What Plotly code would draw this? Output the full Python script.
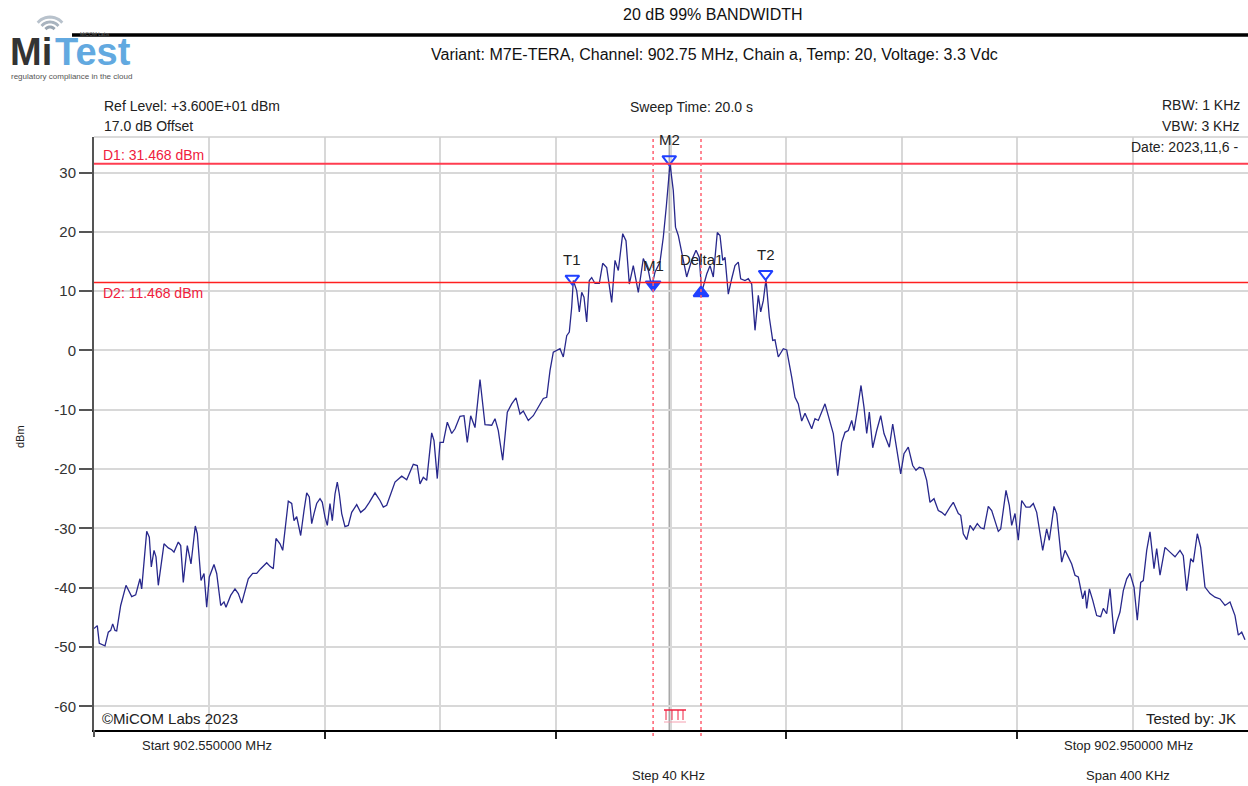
import math
import plotly.graph_objects as go

# ---------------- data ----------------
START_MHZ = 902.55
STOP_MHZ = 902.95

trace_offset_khz = [
    0.0, 1.14, 1.84, 3.81, 4.96, 5.79, 6.48, 7.28, 7.87, 9.25, 11.09, 13.07, 14.45, 15.94, 16.53,
    18.27, 19.17, 19.86, 20.80, 21.49, 22.29, 24.26, 25.75, 26.93, 27.73, 29.22, 30.05, 30.95, 32.34,
    33.62, 35.11, 35.81, 37.09, 38.13, 39.06, 39.97, 41.59, 42.53, 43.92, 45.06, 45.75, 47.38, 48.87,
    50.02, 51.20, 52.34, 53.48, 55.01, 56.40, 57.78, 59.86, 61.01, 62.15, 63.08, 64.47, 65.41, 66.20,
    67.35, 68.53, 69.32, 70.26, 71.64, 72.79, 73.73, 74.63, 75.46, 76.26, 77.19, 78.34, 79.13, 80.07,
    80.87, 81.80, 82.60, 83.54, 84.33, 85.03, 85.86, 87.00, 88.15, 89.32, 91.06, 92.44, 93.93, 95.42,
    97.40, 99.13, 100.28, 101.46, 102.60,
    104.33, 106.66, 108.39, 110.68, 112.06, 113.00, 114.14, 115.32, 117.05, 117.85, 118.99, 119.93,
    121.07, 122.46, 123.99, 125.13, 126.86, 128.25, 129.39, 130.57, 132.06, 133.80, 135.53, 137.85,
    138.99, 140.14, 141.66, 143.26, 144.78, 146.27, 147.66, 148.80, 150.54, 152.27, 154.00, 155.74,
    156.91, 158.06, 159.20, 161.52, 162.67, 163.85, 164.75, 165.58, 166.14, 167.31, 168.22, 169.05,
    169.84, 170.78, 171.68, 172.51, 173.66, 175.15, 176.33, 177.71, 179.45, 180.59, 181.74, 183.26,
    184.40, 185.55, 186.93, 188.67, 190.40, 192.13, 193.31, 194.45, 196.18, 197.33, 198.40, 199.65,
    200.79, 201.56, 202.53, 203.71, 205.44, 207.17, 208.67, 209.81, 210.64, 212.38, 213.52, 214.66,
    216.05, 216.98, 217.92, 218.72, 219.86, 221.04, 222.18, 223.33, 224.16, 225.65, 226.79, 227.97,
    229.12, 230.26, 231.09, 231.99, 232.93, 234.07, 235.25, 236.05, 237.19, 238.93, 240.10, 241.84,
    242.98, 244.13, 245.30, 246.45, 247.59, 248.77, 249.91, 251.06, 253.38, 255.11, 256.26, 257.78,
    259.17, 260.31, 261.46, 262.64, 263.43, 264.58, 265.86, 266.90, 267.84, 268.74, 269.92, 271.30,
    272.69, 273.83, 275.67, 276.85, 278.44, 279.62, 280.76, 282.25, 283.78, 284.92, 286.07, 287.45,
    288.63, 289.77, 291.16, 292.65, 293.83, 294.97, 296.71,
    297.85, 299.59, 300.42, 301.32, 302.50, 303.64, 304.79, 306.17, 307.35, 308.49, 309.98, 311.16,
    313.45, 314.28, 316.12, 317.26, 318.09, 319.24, 320.38, 321.56, 323.05, 324.44, 325.58, 326.76,
    328.84, 330.22, 331.12, 332.76, 333.69, 335.42, 336.57, 337.71, 338.89, 340.04, 341.18, 342.70,
    343.50, 344.09, 344.99, 346.17, 347.55, 348.94, 349.84, 351.02, 352.17, 353.55, 354.49, 355.63,
    356.78, 357.96, 359.10, 360.49, 361.63, 362.81, 363.71, 364.89, 366.03, 367.42, 368.35, 369.50,
    371.23, 372.96, 374.70, 376.43, 377.57, 378.75, 380.14, 381.04, 382.43, 383.60, 385.09, 386.83,
    388.56, 390.29, 392.03, 393.76, 395.49, 396.64, 397.82, 398.96,
]

trace_level_dbm = [
    -46.9, -46.4, -49.4, -49.8, -47.5, -47.2, -46.1, -47.2, -47.3, -43.0, -39.6, -41.5, -41.2, -38.5, -40.2,
    -30.5, -31.5, -36.5, -33.7, -34.8, -39.6, -32.6, -33.3, -33.6, -34.0, -32.3, -32.9, -39.1, -32.9,
    -36.0, -29.6, -30.9, -38.8, -37.6, -43.3, -38.2, -36.1, -37.6, -43.0, -42.4, -43.3, -41.3, -40.2,
    -41.0, -42.6, -40.7, -38.5, -37.6, -37.6, -36.8, -35.8, -36.4, -36.8, -31.7, -32.6, -33.7, -30.6,
    -25.4, -25.8, -28.7, -28.0, -31.2, -27.0, -24.0, -24.7, -29.2, -27.5, -25.8, -25.0, -25.6, -28.1,
    -29.5, -25.8, -28.7, -24.2, -22.2, -24.2, -27.5, -29.7, -29.5, -27.3, -26.0, -27.3, -26.7, -25.6,
    -24.0, -25.3, -26.4, -26.1, -24.4,
    -22.2, -21.2, -21.8, -19.2, -19.4, -22.5, -21.4, -21.9, -13.9, -15.2, -21.6, -15.5,
    -15.5, -12.1, -14.0, -13.2, -11.1, -11.0, -15.5, -11.0, -13.0, -4.9, -12.5, -12.6,
    -11.5, -13.5, -18.5, -10.4, -9.0, -8.0, -10.7, -10.2, -11.8, -11.0, -9.6, -8.1,
    -7.9, -3.4, -0.3, 0.3, -1.1, 2.5, 3.1, 7.3, 11.8, 10.1, 6.5, 9.8,
    9.0, 4.8, 11.8, 12.3, 11.3, 11.3, 14.7, 14.0, 8.1, 15.2, 13.5, 19.7,
    18.5, 11.2, 14.3, 9.8, 15.5, 13.5, 10.7, 13.2, 14.9, 19.1, 24.4, 31.5,
    27.0, 20.8, 19.4, 16.3, 12.4, 15.2, 16.9, 15.7, 9.8, 12.9, 14.3, 12.4,
    19.9, 19.4, 15.2, 15.7, 9.5, 12.1, 14.3, 14.9, 12.1, 11.8, 12.1, 11.2,
    3.4, 9.3, 6.5, 8.4, 12.0, 5.6, 1.7, 1.8, -1.1, 0.3, 0.1, -4.5,
    -7.9, -9.0, -11.9, -10.6, -11.8, -13.2, -11.5, -11.8, -9.0, -11.8, -14.0, -21.1,
    -15.5, -13.8, -13.5, -11.8, -13.5, -10.1, -5.9, -9.6, -14.0, -10.4, -16.4, -13.5,
    -11.0, -14.0, -16.3, -12.4, -17.4, -20.8, -17.4, -16.3, -19.4, -20.2, -19.7, -19.9,
    -21.9, -25.6, -25.0, -27.0, -27.3, -27.8, -26.4,
    -25.6, -27.5, -27.8, -30.9, -31.9, -29.5, -30.3, -29.2, -29.9, -30.1, -26.3, -27.0,
    -30.5, -30.1, -23.6, -26.1, -29.5, -27.5, -32.0, -25.3, -26.4, -26.4, -25.8, -27.3,
    -33.7, -30.1, -32.0, -26.3, -27.5, -35.7, -33.7, -34.8, -36.0, -37.9, -38.2, -41.9,
    -40.5, -43.5, -40.2, -42.1, -44.7, -44.9, -43.5, -44.4, -40.2, -47.8, -45.8, -44.1,
    -40.5, -38.5, -37.6, -39.9, -45.5, -39.1, -38.8, -33.7, -30.6, -36.8, -33.4, -37.9,
    -33.2, -34.0, -34.8, -33.7, -34.6, -40.5, -35.1, -35.7, -30.9, -33.2, -39.9, -41.0,
    -41.6, -41.9, -43.0, -42.4, -44.7, -48.0, -47.5, -48.8,
]

marker_names = ["T1", "M1", "M2", "Delta1", "T2"]
marker_offset_khz = [165.8, 193.8, 199.4, 210.4, 232.8]
marker_level_dbm = [11.3, 10.3, 31.468, 10.5, 12.1]

d1_level = 31.468
d2_level = 11.468
y_ticks = [-60, -50, -40, -30, -20, -10, 0, 10, 20, 30]
y_tick_labels = [str(v) for v in y_ticks]
ref_level = 36.0
y_bottom = -64.0

freq_mhz = [START_MHZ + k / 1000.0 for k in trace_offset_khz]
marker_freq = [START_MHZ + k / 1000.0 for k in marker_offset_khz]

# ---------------- geometry helpers ----------------
W, H = 1248, 786
B = 56
PLOT_LEFT, PLOT_TOP = 94, 137
PH = H - B
RULE_Y = 35


def px(x):
    return x / W


def py(y):
    return (H - B - y) / PH


X_DOM = [px(PLOT_LEFT), 1.0]
Y_DOM = [0.0, py(PLOT_TOP)]

FONT = "Liberation Sans, Arial, sans-serif"
TRACE_COLOR = "#28288c"
MARK_COLOR = "#2040ff"
GRID = "#d8d8d8"

fig = go.Figure()

fig.add_trace(go.Scatter(
    x=freq_mhz, y=trace_level_dbm, mode="lines",
    line=dict(color=TRACE_COLOR, width=1.3), hoverinfo="skip", showlegend=False))

sym = {"T1": "triangle-down-open", "M1": "triangle-down", "M2": "triangle-down-open",
       "Delta1": "triangle-up", "T2": "triangle-down-open"}
for name, f, lv in zip(marker_names, marker_freq, marker_level_dbm):
    s = sym[name]
    shift = 0.8 if "down" in s else -0.8
    fig.add_trace(go.Scatter(
        x=[f], y=[lv + shift], mode="markers",
        marker=dict(symbol=s, size=12 if "open" in s else 13, color=MARK_COLOR,
                    line=dict(color=MARK_COLOR, width=2)),
        hoverinfo="skip", showlegend=False, cliponaxis=False))

# header rule on an invisible pixel-scaled overlay axis pair
fig.add_trace(go.Scatter(
    x=[72, W], y=[RULE_Y, RULE_Y], mode="lines", xaxis="x2", yaxis="y2",
    line=dict(color="black", width=3), hoverinfo="skip", showlegend=False, cliponaxis=False))

shapes = []
shapes.append(dict(type="line", xref="paper", yref="y", x0=X_DOM[0], x1=1, y0=d1_level, y1=d1_level,
                   line=dict(color="#ff3d50", width=2)))
shapes.append(dict(type="line", xref="paper", yref="y", x0=X_DOM[0], x1=1, y0=d2_level, y1=d2_level,
                   line=dict(color="#ff2020", width=1.5)))
m2f = marker_freq[2]
shapes.append(dict(type="line", xref="x", yref="paper", x0=m2f, x1=m2f, y0=0, y1=Y_DOM[1],
                   line=dict(color="#a8a8a8", width=1.5), layer="below"))
for f in (marker_freq[1], marker_freq[3]):
    shapes.append(dict(type="line", xref="x", yref="paper", x0=f, x1=f, y0=py(736), y1=Y_DOM[1],
                       line=dict(color="#ff6070", width=1.5, dash="dot")))
shapes.append(dict(type="line", xref="paper", yref="paper", x0=X_DOM[0], x1=1, y0=Y_DOM[1], y1=Y_DOM[1],
                   line=dict(color="#cfcfcf", width=1.5)))
shapes.append(dict(type="line", xref="paper", yref="paper", x0=X_DOM[0], x1=X_DOM[0], y0=0, y1=py(737),
                   line=dict(color="#555", width=2)))
shapes.append(dict(type="line", xref="paper", yref="paper", x0=px(72), x1=1, y0=py(RULE_Y), y1=py(RULE_Y),
                   line=dict(color="black", width=3)))
gx0, gx1 = px(664), px(686)
shapes.append(dict(type="line", xref="paper", yref="paper", x0=gx0, x1=gx1, y0=py(710), y1=py(710),
                   line=dict(color="#f02040", width=1.5)))
shapes.append(dict(type="line", xref="paper", yref="paper", x0=gx0, x1=gx1, y0=py(722), y1=py(722),
                   line=dict(color="#f5a0b0", width=1)))
for gx in (666, 672, 678, 683):
    shapes.append(dict(type="line", xref="paper", yref="paper", x0=px(gx), x1=px(gx), y0=py(710), y1=py(720),
                       line=dict(color="#f02040", width=1)))

cx, cy = 50, 33
for r, col in ((6, "#9aa6b2"), (11, "#a9b4bf"), (16, "#b8c2cc")):
    pts = []
    for i in range(13):
        a = math.radians(40 + i * 100 / 12)
        pts.append((px(cx + r * math.cos(a)), py(cy - r * math.sin(a))))
    path = "M " + " L ".join(f"{x:.5f},{y:.5f}" for x, y in pts)
    shapes.append(dict(type="path", xref="paper", yref="paper", path=path,
                       line=dict(color=col, width=3)))

anns = []


def ann(text, x, y, xanchor="left", size=14, color="#222", **kw):
    anns.append(dict(text=text, x=px(x), y=py(y), xref="paper", yref="paper",
                     xanchor=xanchor, yanchor="middle", showarrow=False,
                     font=dict(family=FONT, size=size, color=color), **kw))


ann("20 dB 99% BANDWIDTH", 713, 14, "center", 16, "#111")
ann("Variant: M7E-TERA, Channel: 902.75 MHz, Chain a, Temp: 20, Voltage: 3.3 Vdc", 714, 55, "center", 16, "#111")
ann("Ref Level: +3.600E+01 dBm", 102, 106, "left", 14)
ann("17.0 dB Offset", 102, 126, "left", 14)
ann("Sweep Time: 20.0 s", 691, 107, "center", 14)
ann("RBW: 1 KHz", 1242, 105, "right", 14)
ann("VBW: 3 KHz", 1242, 126, "right", 14)
ann("Date: 2023,11,6 -", 1240, 147, "right", 14)
ann(f"D1: {d1_level:.3f} dBm", 101, 155, "left", 14, "#f0203c")
ann(f"D2: {d2_level:.3f} dBm", 101, 293, "left", 14, "#f0203c")
ann("©MiCOM Labs 2023", 100, 718, "left", 15)
ann("Tested by: JK", 1238, 718, "right", 15)
ann(f"Start {START_MHZ:.6f} MHz", 207, 745, "center", 13)
ann(f"Stop {STOP_MHZ:.6f} MHz", 1128, 745, "center", 13)
ann("Step 40 KHz", 668, 775, "center", 13)
ann("Span 400 KHz", 1128, 775, "center", 13)
ann("dBm", 20, 437, "center", 11, textangle=-90)
ann("<b>Mi</b>", 8, 52, "left", 38, "#333333")
ann("<b>Test</b>", 53, 52, "left", 38, "#62a9e0")
ann("MiCOM Labs", 95, 34, "center", 5, "#666")
ann("regulatory compliance in the cloud", 9, 76, "left", 8, "#555")

for name, f, lv in zip(marker_names, marker_freq, marker_level_dbm):
    anns.append(dict(text=name, x=f, y=lv, xref="x", yref="y", showarrow=False,
                     yshift=24 if name != "Delta1" else 29,
                     font=dict(family=FONT, size=15, color="#222")))

fig.update_layout(
    width=W, height=H, autosize=False,
    margin=dict(l=0, r=0, t=0, b=B, pad=0),
    paper_bgcolor="white", plot_bgcolor="white",
    font=dict(family=FONT, color="#222"),
    shapes=shapes, annotations=anns, showlegend=False,
    xaxis=dict(range=[START_MHZ, STOP_MHZ], domain=X_DOM, anchor="y",
               showline=True, linecolor="black", linewidth=2,
               ticks="outside", tickvals=[902.63, 902.71, 902.79, 902.87], ticklen=7,
               tickcolor="#222", tickwidth=1.5, showticklabels=False,
               showgrid=True, gridcolor=GRID, gridwidth=1.5, zeroline=False,
               minor=dict(tick0=START_MHZ, dtick=0.04, showgrid=True, gridcolor=GRID,
                          gridwidth=1.5, ticks="")),
    yaxis=dict(range=[y_bottom, ref_level], domain=Y_DOM, anchor="x",
               tickvals=y_ticks, ticktext=y_tick_labels,
               ticks="outside", ticklen=13,
               tickcolor="#555", tickwidth=1.5, showline=True, linecolor="#555", linewidth=2,
               showgrid=True, gridcolor=GRID, gridwidth=1.5, zeroline=False,
               tickfont=dict(family=FONT, size=15, color="#333")),
    xaxis2=dict(domain=[0, 1], range=[0, W], anchor="y2", visible=False, fixedrange=True),
    yaxis2=dict(domain=[py(44), py(20)], range=[44, 20], anchor="x2", visible=False, fixedrange=True),
)

fig.write_html("out.html", config={"displayModeBar": False},
               post_script="document.body.style.margin='0px';document.body.style.overflow='hidden';")
